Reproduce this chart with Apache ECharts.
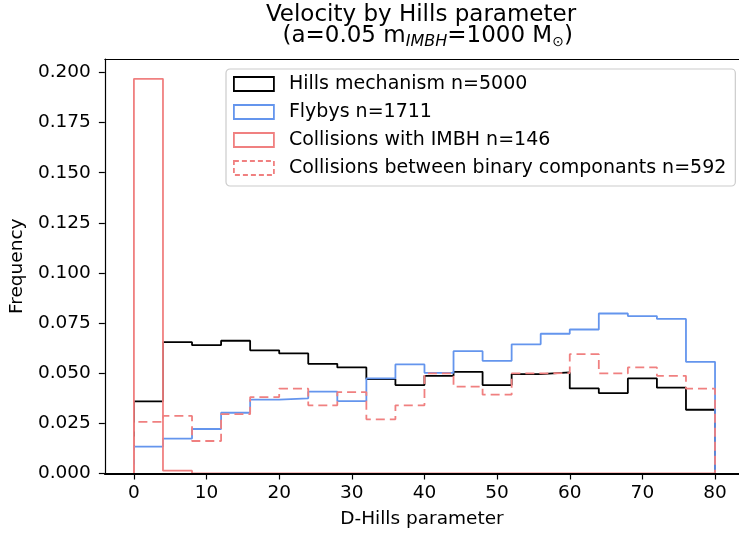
<!DOCTYPE html>
<html>
<head>
<meta charset="utf-8">
<script src="https://cdn.jsdelivr.net/npm/echarts@6/dist/echarts.min.js"></script>
<style>
  html, body { margin: 0; padding: 0; background: #fff; }
  #chart { width: 739px; height: 537px; }
</style>
</head>
<body>
<div id="chart"></div>
<script>
// Bin edges of the D-Hills histogram (20 bins, width 4)
const binEdges = [0, 4, 8, 12, 16, 20, 24, 28, 32, 36, 40, 44, 48, 52, 56, 60, 64, 68, 72, 76, 80];

// Normalised frequency per bin
const hillsFreq   = [0.0360, 0.0655, 0.0640, 0.0662, 0.0614, 0.0599, 0.0547, 0.0529, 0.0471, 0.0441,
                     0.0487, 0.0507, 0.0441, 0.0496, 0.0504, 0.0424, 0.0401, 0.0474, 0.0428, 0.0318];
const flybyFreq   = [0.0134, 0.0174, 0.0222, 0.0303, 0.0368, 0.0375, 0.0408, 0.0361, 0.0474, 0.0544,
                     0.0502, 0.0610, 0.0562, 0.0644, 0.0697, 0.0718, 0.0798, 0.0785, 0.0771, 0.0557];
const imbhFreq    = [0.1968, 0.0014, 0, 0, 0, 0, 0, 0, 0, 0,
                     0, 0, 0, 0, 0, 0, 0, 0, 0, 0];
const binaryFreq  = [0.0257, 0.0287, 0.0162, 0.0296, 0.0381, 0.0423, 0.0340, 0.0406, 0.0270, 0.0340,
                     0.0499, 0.0433, 0.0393, 0.0499, 0.0501, 0.0595, 0.0499, 0.0529, 0.0487, 0.0423];

const seriesNames = [
  'Hills mechanism n=5000',
  'Flybys n=1711',
  'Collisions with IMBH n=146',
  'Collisions between binary componants n=592'
];

const xTicks = [0, 10, 20, 30, 40, 50, 60, 70, 80];
const yTicks = [0, 0.025, 0.05, 0.075, 0.1, 0.125, 0.15, 0.175, 0.2];

// Outline of a step histogram: up the first edge, across each bin, down the last edge
function stepOutline(edges, vals) {
  const pts = [[edges[0], 0]];
  for (let i = 0; i < vals.length; i++) {
    pts.push([edges[i], vals[i]]);
    pts.push([edges[i + 1], vals[i]]);
  }
  pts.push([edges[edges.length - 1], 0]);
  return pts;
}

const FONT = 'DejaVu Sans';
const colors = ['#000000', '#6495ED', '#F08080', '#F08080'];
const dashPattern = [9, 5];
const X_MIN = -4, X_MAX = 83.3;   // right part of the frame runs off the canvas edge

function histSeries(name, vals, color, dashed) {
  return {
    name: name,
    type: 'line',
    z: 2,
    data: stepOutline(binEdges, vals),
    showSymbol: false,
    symbol: 'none',
    color: color,
    lineStyle: { color: color, width: 1.8, type: dashed ? dashPattern : 'solid' },
    silent: true,
    animation: false
  };
}

const chart = echarts.init(document.getElementById('chart'), null, { renderer: 'canvas' });

chart.setOption({
  animation: false,
  backgroundColor: '#ffffff',
  title: [
    {
      text: 'Velocity by Hills parameter',
      left: 416,
      top: -2,
      textAlign: 'center',
      textStyle: { fontFamily: FONT, fontSize: 23, fontWeight: 'normal', color: '#000', lineHeight: 24 }
    },
    {
      text: ' (a=0.05 m{sub|IMBH}=1000 M{sun|\u2299})',
      left: 419,
      top: 19,
      textAlign: 'center',
      textStyle: {
        fontFamily: FONT, fontSize: 23, fontWeight: 'normal', color: '#000', lineHeight: 24,
        rich: {
          sub: { fontFamily: FONT, fontSize: 16, fontStyle: 'italic', color: '#000', padding: [12, 0, 0, 0] },
          sun: { fontFamily: FONT, fontSize: 14, color: '#000', padding: [12, 0, 0, 0] }
        }
      }
    }
  ],
  grid: {
    left: 104, top: 59, right: 0, height: 414.5,
    show: false,
    containLabel: false
  },
  legend: {
    orient: 'vertical',
    left: 226, top: 69,
    icon: 'rect',
    itemWidth: 40, itemHeight: 14, itemGap: 8,
    padding: [5, 9, 8, 7],
    selectedMode: false,
    backgroundColor: 'rgba(255,255,255,0.8)',
    borderColor: '#cccccc', borderWidth: 1.2, borderRadius: 4,
    textStyle: { fontFamily: FONT, fontSize: 19, color: '#000', lineHeight: 20, padding: [0, 0, 0, 10] },
    data: seriesNames.map((n, i) => ({
      name: n,
      itemStyle: {
        color: 'rgba(0,0,0,0)',
        borderColor: colors[i],
        borderWidth: 1.8,
        borderType: i === 3 ? [5, 3] : 'solid'
      }
    }))
  },
  xAxis: [
    {
      type: 'value',
      min: X_MIN, max: X_MAX,
      z: 10,
      position: 'bottom',
      name: 'D-Hills parameter',
      nameLocation: 'middle',
      nameGap: 36,
      nameTextStyle: { fontFamily: FONT, fontSize: 18.5, color: '#000' },
      axisLine: { show: true, onZero: false, lineStyle: { color: '#000', width: 2 } },
      axisTick: { show: true, length: 6, customValues: xTicks, lineStyle: { color: '#000', width: 1.2 } },
      axisLabel: {
        customValues: xTicks, fontFamily: FONT, fontSize: 18.5, color: '#000', margin: 10,
        formatter: v => String(v)
      },
      splitLine: { show: false }
    },
    {
      // top frame line
      type: 'value',
      min: X_MIN, max: X_MAX,
      z: 10,
      position: 'top',
      axisLine: { show: true, onZero: false, lineStyle: { color: '#000', width: 1.2 } },
      axisTick: { show: false },
      axisLabel: { show: false },
      splitLine: { show: false }
    }
  ],
  yAxis: {
    type: 'value',
    min: 0, max: 0.2067,
    z: 10,
    name: 'Frequency',
    nameLocation: 'middle',
    nameGap: 69,
    nameTextStyle: { fontFamily: FONT, fontSize: 18.5, color: '#000' },
    axisLine: { show: true, onZero: false, lineStyle: { color: '#000', width: 1.2 } },
    axisTick: { show: true, length: 6, customValues: yTicks, lineStyle: { color: '#000', width: 1.2 } },
    axisLabel: {
      customValues: yTicks, fontFamily: FONT, fontSize: 18.5, color: '#000', margin: 14,
      formatter: v => v.toFixed(3)
    },
    splitLine: { show: false }
  },
  series: [
    histSeries(seriesNames[0], hillsFreq, colors[0], false),
    histSeries(seriesNames[1], flybyFreq, colors[1], false),
    histSeries(seriesNames[2], imbhFreq, colors[2], false),
    histSeries(seriesNames[3], binaryFreq, colors[3], true)
  ]
});
</script>
</body>
</html>
